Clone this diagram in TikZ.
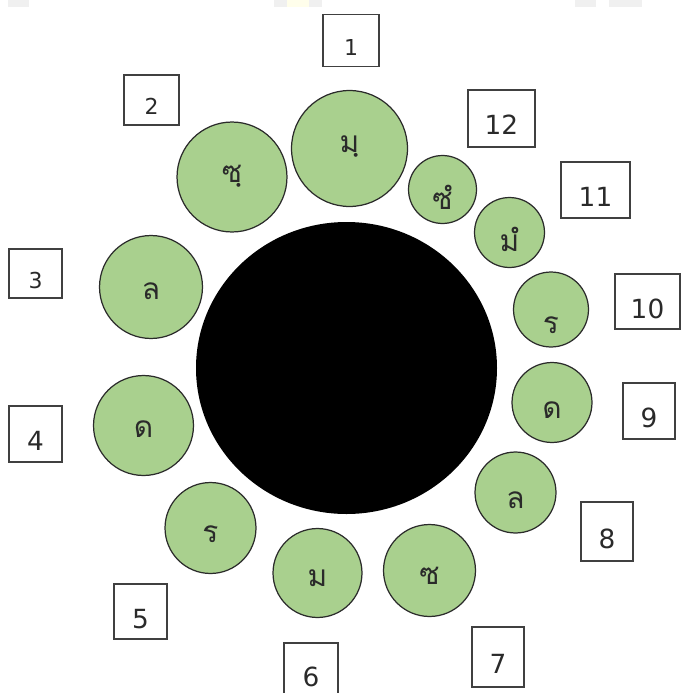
\documentclass[tikz,border=0pt]{standalone}
\usepackage{fontspec}
\usepackage{tikz}
\usetikzlibrary{shapes.geometric}
\newfontfamily\thaifont[Script=Thai]{Loma}
\newfontfamily\digitfont{DejaVu Sans}
\definecolor{leaf}{HTML}{A9D08E}
\definecolor{rim}{HTML}{2B2B2B}
\definecolor{boxline}{HTML}{404040}
\definecolor{ink}{HTML}{2A2A2A}

\begin{document}
\begin{tikzpicture}[x=0.02cm, y=-0.02cm,
  ball/.style={circle, draw=rim, fill=leaf, line width=0.7pt, inner sep=0pt,
    minimum size=#1*0.04cm, font=\thaifont\fontsize{17}{17}\selectfont,
    text=ink, text height=0.48cm, text depth=0pt},
  numbox/.style 2 args={draw=boxline, line width=0.65pt, inner sep=0pt,
    minimum width=#1*0.02cm, minimum height=#2*0.02cm, text=ink,
    font=\digitfont\fontsize{15}{15}\selectfont, text height=0.66cm, text depth=0pt},
  small/.style={font=\digitfont\fontsize{12.5}{12.5}\selectfont, text height=0.6cm}]
  \useasboundingbox (0,0) rectangle (681,693);
  % faint strips along the top edge
  \fill[gray!12] (8,0) rectangle (29,7);
  \fill[gray!12] (274,0) rectangle (322,7);
  \fill[yellow!8] (287,0) rectangle (309,7);
  \fill[gray!12] (575,0) rectangle (596,7);
  \fill[gray!12] (609,0) rectangle (642,7);
  % centre
  \node[ellipse, fill=black, inner sep=0pt, minimum width=301*0.02cm,
    minimum height=292*0.02cm] (core) at (346.5,368) {};
  % the twelve notes
  \node[ball=58, text depth=0.32cm] (m1) at (349.5,148.5) {มฺ};
  \node[ball=55, text depth=0.28cm] (m2) at (232,177) {ซฺ};
  \node[ball=51.5] (m3) at (151,287) {ล};
  \node[ball=50] (m4) at (143.5,425.5) {ด};
  \node[ball=45.5, text height=0.56cm] (m5) at (210.5,528) {ร};
  \node[ball=44.5, text height=0.54cm] (m6) at (317.5,573) {ม};
  \node[ball=46, text height=0.56cm] (m7) at (429.5,570.5) {ซ};
  \node[ball=40.5, text height=0.62cm] (m8) at (515.5,492.5) {ล};
  \node[ball=40, text height=0.62cm] (m9) at (552,402.5) {ด};
  \node[ball=37.5, text height=0.94cm] (m10) at (551,309.5) {ร};
  \node[ball=35, text height=0.78cm] (m11) at (509.5,232.5) {มํ};
  \node[ball=34, text height=0.82cm] (m12) at (442.5,189.5) {ซํ};
  % numbers
  \node[numbox={56}{52}, small] (b1) at (351,40.5) {1};
  \node[numbox={55}{50}, small] (b2) at (151.5,100) {2};
  \node[numbox={53}{49}, small] (b3) at (35.5,273.5) {3};
  \node[numbox={53}{56}] (b4) at (35.5,434) {4};
  \node[numbox={53}{55}] (b5) at (140.5,611.5) {5};
  \node[numbox={54}{54}] (b6) at (311,670) {6};
  \node[numbox={52}{60}] (b7) at (498,657) {7};
  \node[numbox={52}{59}] (b8) at (607,531.5) {8};
  \node[numbox={52}{56}] (b9) at (649,411) {9};
  \node[numbox={65}{55}] (b10) at (647.5,301.5) {10};
  \node[numbox={69}{56}] (b11) at (595.5,190) {11};
  \node[numbox={67}{57}] (b12) at (501.5,118.5) {12};
\end{tikzpicture}
\end{document}
